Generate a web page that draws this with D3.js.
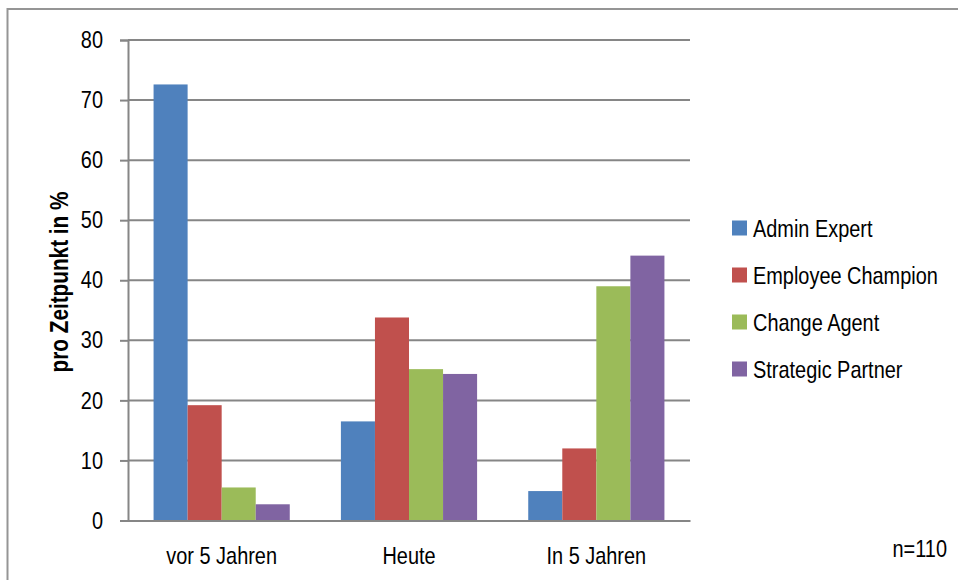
<!DOCTYPE html>
<html>
<head>
<meta charset="utf-8">
<script src="https://cdn.jsdelivr.net/npm/d3@7"></script>
<style>
  body { margin: 0; background: #fff; }
  text { font-family: "Liberation Sans", Arial, sans-serif; fill: #000; }
</style>
</head>
<body>
<div id="chart"></div>
<script>
// Data (percent per point in time)
const categories = ["vor 5 Jahren", "Heute", "In 5 Jahren"];
const series = ["Admin Expert", "Employee Champion", "Change Agent", "Strategic Partner"];
const adminExpert = [72.6, 16.5, 4.9];
const employeeChampion = [19.2, 33.8, 12.0];
const changeAgent = [5.5, 25.2, 39.0];
const strategicPartner = [2.7, 24.4, 44.1];
const yTicks = [0, 10, 20, 30, 40, 50, 60, 70, 80];
const colors = ["#4f81bd", "#c0504d", "#9bbb59", "#8064a2"];

const width = 958;
const height = 580;
const margin = {left: 128, right: 268, top: 40, bottom: 59.5};
const squeeze = 0.83; // the original font is a condensed one

const values = [adminExpert, employeeChampion, changeAgent, strategicPartner];

// narrow the glyphs horizontally, no condensed font installed
function condense(sel) {
  sel.each(function() {
    const t = d3.select(this);
    const x = +t.attr("x") || 0;
    const y = +t.attr("y") || 0;
    const before = t.attr("transform") || "";
    t.attr("x", 0).attr("y", 0)
     .attr("transform", `${before} translate(${x},${y}) scale(${squeeze},1)`);
  });
}

const svg = d3.select("#chart")
  .append("svg")
  .attr("width", width)
  .attr("height", height);

// outer chart frame
svg.append("rect")
  .attr("x", 7.5).attr("y", 9)
  .attr("width", 1000).attr("height", 1000)
  .attr("fill", "none")
  .attr("stroke", "#959595")
  .attr("stroke-width", 2);

const yScale = d3.scaleLinear()
  .domain([0, 80])
  .range([height - margin.bottom, margin.top]);

// group scale, gap width 150% like the spreadsheet default
const xScale = d3.scaleBand()
  .domain(categories)
  .range([margin.left, width - margin.right])
  .paddingInner(0.273)
  .paddingOuter(0.1365);

const xInner = d3.scaleBand()
  .domain(d3.range(series.length))
  .range([0, xScale.bandwidth()]);

// gridlines
svg.append("g")
  .selectAll("line")
  .data(yTicks.slice(1))
  .join("line")
    .attr("x1", margin.left)
    .attr("x2", width - margin.right)
    .attr("y1", d => yScale(d))
    .attr("y2", d => yScale(d))
    .attr("stroke", "#868686")
    .attr("stroke-width", 2);

// y axis
const yAxis = svg.append("g")
  .attr("transform", `translate(${margin.left},0)`)
  .call(d3.axisLeft(yScale).tickValues(yTicks).tickSize(8).tickPadding(17));
yAxis.select(".domain").attr("stroke", "#868686").attr("stroke-width", 2);
yAxis.selectAll(".tick line").attr("stroke", "#868686").attr("stroke-width", 2);
yAxis.selectAll(".tick text")
  .attr("font-size", "24px")
  .attr("font-family", null)
  .call(condense);

// bars
svg.append("g")
  .selectAll("g")
  .data(categories)
  .join("g")
    .attr("transform", d => `translate(${xScale(d)},0)`)
  .selectAll("rect")
  .data((c, ci) => values.map((v, si) => ({si: si, value: v[ci]})))
  .join("rect")
    .attr("x", d => xInner(d.si))
    .attr("y", d => yScale(d.value))
    .attr("width", xInner.bandwidth())
    .attr("height", d => yScale(0) - yScale(d.value))
    .attr("fill", d => colors[d.si]);

// x axis
const xAxis = svg.append("g")
  .attr("transform", `translate(0,${yScale(0)})`)
  .call(d3.axisBottom(xScale).tickSize(0).tickPadding(26));
xAxis.select(".domain").attr("stroke", "#868686").attr("stroke-width", 2);
xAxis.selectAll(".tick text")
  .attr("font-size", "24px")
  .attr("font-family", null)
  .call(condense);

// y axis title
svg.append("text")
  .attr("transform", "translate(68,282) rotate(-90)")
  .attr("text-anchor", "middle")
  .attr("font-size", "25px")
  .attr("font-weight", "bold")
  .text("pro Zeitpunkt in %")
  .call(condense);

// legend
const legend = svg.append("g")
  .selectAll("g")
  .data(series)
  .join("g")
    .attr("transform", (d, i) => `translate(732,${228 + i * 47})`);
legend.append("rect")
  .attr("x", 0).attr("y", -7.5)
  .attr("width", 15).attr("height", 15)
  .attr("fill", (d, i) => colors[i]);
legend.append("text")
  .attr("x", 21)
  .attr("y", 9)
  .attr("font-size", "24px")
  .text(d => d)
  .call(condense);

// sample size note
svg.append("text")
  .attr("x", 947).attr("y", 557)
  .attr("text-anchor", "end")
  .attr("font-size", "24px")
  .text("n=110")
  .call(condense);
</script>
</body>
</html>
